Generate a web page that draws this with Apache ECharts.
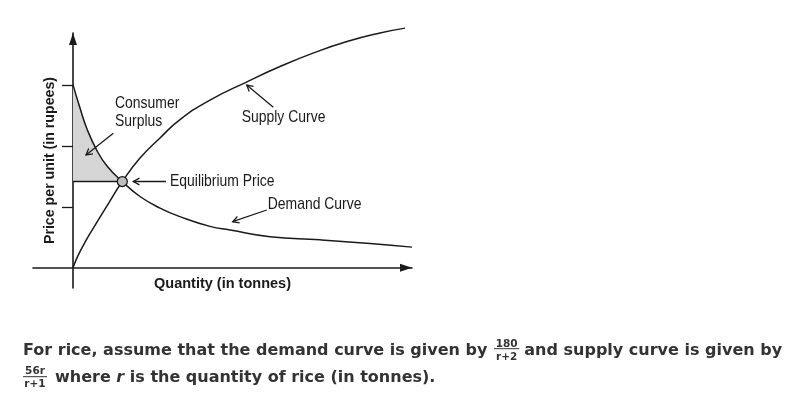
<!DOCTYPE html>
<html>
<head>
<meta charset="utf-8">
<script src="https://cdn.jsdelivr.net/npm/echarts@6.0.0/dist/echarts.min.js"></script>
<style>
  html, body { margin: 0; padding: 0; background: #fff; }
  #chart { width: 797px; height: 399px; }
</style>
</head>
<body>
<div id="chart"></div>
<script>
// schematic units (x: quantity, y: price, 1 unit = one y tick)
var demandQty   = [0, 0.7, 1.37, 2.37, 3.4, 4.93, 6.7, 8.7, 10.7, 13.7, 15.7, 19.7, 24.7, 29.7, 33.9];
var demandPrice = [3.0, 2.62, 2.29, 1.93, 1.67, 1.415, 1.17, 0.98, 0.84, 0.68, 0.62, 0.51, 0.46, 0.40, 0.34];
var supplyQty   = [0, 0.5, 1.3, 2.4, 3.6, 4.93, 6.7, 8.7, 10.7, 13.7, 17.4, 20.7, 24.0, 27.4, 30.7, 33.2];
var supplyPrice = [0, 0.2, 0.45, 0.75, 1.07, 1.415, 1.8, 2.13, 2.43, 2.75, 3.05, 3.3, 3.52, 3.71, 3.85, 3.93];
var eqQty = 4.93;
var eqPrice = 1.415;
var priceTicks = [1, 2, 3];

var sans = "'Liberation Sans', Arial, sans-serif";
var ink = '#1a1a1a';

function pairs(xs, ys) {
  var out = [];
  for (var i = 0; i < xs.length; i++) out.push([xs[i], ys[i]]);
  return out;
}

var demand = pairs(demandQty, demandPrice);
var supply = pairs(supplyQty, supplyPrice);
// part of the demand curve left of the equilibrium -> consumer surplus
var surplus = demand.filter(function(p) { return p[0] <= eqQty; });

function arrow(x1, y1, x2, y2) {
  var a = Math.atan2(y2 - y1, x2 - x1), L = 7, s = 0.5;
  var st = { stroke: ink, lineWidth: 1.3, fill: null };
  return [
    { type: 'line', z: 100, shape: { x1: x1, y1: y1, x2: x2, y2: y2 }, style: st },
    { type: 'polyline', z: 100, shape: { points: [
      [x2 - L * Math.cos(a - s), y2 - L * Math.sin(a - s)],
      [x2, y2],
      [x2 - L * Math.cos(a + s), y2 - L * Math.sin(a + s)]
    ] }, style: st }
  ];
}

// narrow lettering: 17px glyphs squeezed horizontally
function label(text, x, y) {
  return {
    type: 'text', z: 100, x: x, y: y, scaleX: 0.82,
    style: { text: text, x: 0, y: 0, font: '17px ' + sans, fill: ink, verticalAlign: 'middle' }
  };
}

function txt(text, x, y, font, align) {
  return { type: 'text', z: 100, style: { text: text, x: x, y: y, font: font, fill: '#333', align: align || 'left', verticalAlign: 'middle' } };
}

var bold16 = 'bold 16px "DejaVu Sans"';
var frac = 'bold 10.5px "DejaVu Sans"';

var graphics = [
  label('Consumer', 115, 103),
  label('Surplus', 115, 121),
  label('Supply Curve', 241.7, 117.5),
  label('Equilibrium Price', 170, 181),
  label('Demand Curve', 267.7, 204)
]
  .concat(arrow(113.3, 133.3, 86, 155))
  .concat(arrow(273.3, 107.3, 246.7, 85))
  .concat(arrow(166, 181.5, 133.3, 181.5))
  .concat(arrow(266.7, 210, 232.7, 221.7))
  .concat([
    txt('For rice, assume that the demand curve is given by', 23, 350.4, bold16),
    txt('180', 506.7, 343.9, frac, 'center'),
    { type: 'line', shape: { x1: 494, y1: 348.7, x2: 519.3, y2: 348.7 }, style: { stroke: '#333', lineWidth: 1 } },
    txt('r+2', 506.7, 356.9, frac, 'center'),
    txt('and supply curve is given by', 524.3, 350.4, bold16),
    txt('56r', 35, 371.4, frac, 'center'),
    { type: 'line', shape: { x1: 23, y1: 376.7, x2: 47, y2: 376.7 }, style: { stroke: '#333', lineWidth: 1 } },
    txt('r+1', 35, 384.4, frac, 'center'),
    { type: 'text', style: {
      text: '{a|where }{i|r}{a| is the quantity of rice (in tonnes).}',
      x: 55, y: 377.4, verticalAlign: 'middle',
      rich: {
        a: { font: bold16, fill: '#333' },
        i: { font: 'italic bold 16px "DejaVu Sans"', fill: '#333' }
      }
    } }
  ]);

var chart = echarts.init(document.getElementById('chart'));

chart.setOption({
  animation: false,
  grid: { left: 33, right: 385, top: 33, bottom: 111 },
  xAxis: {
    type: 'value',
    min: -4,
    max: 33.9,
    name: 'Quantity (in tonnes)',
    nameLocation: 'middle',
    nameGap: -12,
    nameTextStyle: { fontFamily: sans, fontWeight: 'bold', fontSize: 14.5, color: ink, verticalAlign: 'top' },
    axisLine: {
      onZero: true,
      symbol: ['none', 'triangle'],
      symbolSize: [8, 12],
      symbolOffset: [0, -6],
      lineStyle: { color: ink, width: 1.6 }
    },
    axisTick: { show: false },
    axisLabel: { show: false },
    splitLine: { show: false }
  },
  yAxis: {
    type: 'value',
    min: -0.33,
    max: 3.85,
    name: 'Price per unit (in rupees)',
    nameLocation: 'middle',
    nameRotate: 90,
    nameGap: -24,
    nameTextStyle: { fontFamily: sans, fontWeight: 'bold', fontSize: 14.2, color: ink },
    axisLine: {
      onZero: true,
      symbol: ['none', 'triangle'],
      symbolSize: [8, 12],
      symbolOffset: [0, -6],
      lineStyle: { color: ink, width: 1.6 }
    },
    axisTick: { show: true, customValues: priceTicks, length: 11, lineStyle: { color: ink, width: 1.3 } },
    axisLabel: { show: false },
    splitLine: { show: false }
  },
  series: [
    {
      type: 'line',
      data: surplus,
      smooth: 0.5,
      symbol: 'none',
      lineStyle: { width: 0 },
      areaStyle: { color: '#d5d5d5', opacity: 1, origin: eqPrice },
      z: 1
    },
    {
      type: 'line',
      name: 'Demand Curve',
      data: demand,
      smooth: 0.5,
      symbol: 'none',
      lineStyle: { color: ink, width: 1.5 },
      z: 3
    },
    {
      type: 'line',
      name: 'Supply Curve',
      data: supply,
      smooth: 0.5,
      symbol: 'none',
      clip: false,
      lineStyle: { color: ink, width: 1.5 },
      z: 3
    },
    {
      type: 'line',
      data: [[0, eqPrice], [eqQty, eqPrice]],
      symbol: 'none',
      lineStyle: { color: ink, width: 1.5 },
      z: 3
    },
    {
      type: 'scatter',
      data: [[eqQty, eqPrice]],
      symbolSize: 10,
      itemStyle: { color: '#bdbdbd', borderColor: ink, borderWidth: 1.3, opacity: 1 },
      z: 5
    }
  ],
  graphic: graphics
});
</script>
</body>
</html>
